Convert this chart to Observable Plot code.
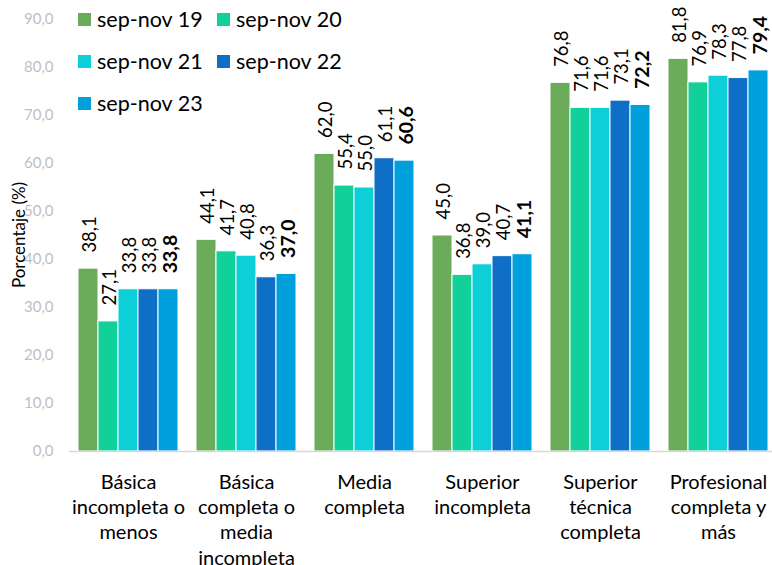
<!DOCTYPE html>
<html><head><meta charset="utf-8">
<script src="https://cdn.jsdelivr.net/npm/d3@7"></script>
<script src="https://cdn.jsdelivr.net/npm/@observablehq/plot@0.6"></script>
<style>
body{margin:0;background:#fff;font-family:Lato,sans-serif;}
#wrap{position:relative;width:772px;height:565px;overflow:hidden;}
.lg{position:absolute;display:flex;align-items:center;font-size:21.5px;color:#000;white-space:nowrap;line-height:1;}
.lg span.sw{display:inline-block;width:13px;height:13px;margin-right:6px;}
</style></head><body><div id="wrap"></div>
<script>
const categories = ["Básica incompleta o menos","Básica completa o media incompleta","Media completa","Superior incompleta","Superior técnica completa","Profesional completa y más"];
const tickLabels = ["Básica\nincompleta o\nmenos","Básica\ncompleta o\nmedia\nincompleta","Media\ncompleta","Superior\nincompleta","Superior\ntécnica\ncompleta","Profesional\ncompleta y\nmás"];
const series = ["sep-nov 19","sep-nov 20","sep-nov 21","sep-nov 22","sep-nov 23"];
const colors = ["#6aac5a","#12d09a","#0ccfd8","#0f6fc6","#00a0dc"];
const v19 = [38.1,44.1,62.0,45.0,76.8,81.8];
const v20 = [27.1,41.7,55.4,36.8,71.6,76.9];
const v21 = [33.8,40.8,55.0,39.0,71.6,78.3];
const v22 = [33.8,36.3,61.1,40.7,73.1,77.8];
const v23 = [33.8,37.0,60.6,41.1,72.2,79.4];
const yTicks = [0,10,20,30,40,50,60,70,80,90];

const seriesValues = [v19,v20,v21,v22,v23];
const data = [];
categories.forEach((c,ci)=>series.forEach((s,si)=>data.push({cat:c, series:s, value:seriesValues[si][ci], last: si===series.length-1})));
const fmt = d => d.toFixed(1).replace(".",",");
const labelOf = new Map(categories.map((c,i)=>[c,tickLabels[i]]));

const plot = Plot.plot({
  width:772, height:565, marginLeft:69, marginRight:0, marginTop:19, marginBottom:114,
  style:{fontFamily:"Lato, sans-serif", background:"white", overflow:"visible"},
  fx:{domain:categories, paddingInner:0.1356, paddingOuter:0.0466, align:0.727, label:null},
  x:{domain:series, padding:0, axis:null},
  y:{domain:[0,90], axis:null},
  color:{domain:series, range:colors},
  marks:[
    Plot.barY(data,{fx:"cat", x:"series", y:"value", fill:"series", stroke:"white", strokeWidth:1}),
    Plot.ruleY([0],{stroke:"#d9d9d9", strokeWidth:1.5, insetLeft:-8, insetRight:-8}),
    Plot.axisY(yTicks,{tickSize:0, tickPadding:24, tickFormat:fmt, fontSize:15, fill:"#bfbfbf", color:"#bfbfbf", label:null}),
    Plot.axisFx({anchor:"bottom", tickSize:0, tickPadding:19, fontSize:20, lineHeight:1.27, label:null, fill:"#000", tickFormat:d=>labelOf.get(d)}),
    Plot.text(data.filter(d=>!d.last),{fx:"cat", x:"series", y:"value", text:d=>fmt(d.value), rotate:-90, textAnchor:"start", dx:2, dy:-16, fontSize:18.5, fill:"#000"}),
    Plot.text(data.filter(d=>d.last),{fx:"cat", x:"series", y:"value", text:d=>fmt(d.value), rotate:-90, textAnchor:"start", dx:2, dy:-16, fontSize:19.5, fontWeight:"bold", fill:"#000"})
  ]
});
const wrap = document.getElementById("wrap");
wrap.appendChild(plot);
const yl = document.createElement("div");
yl.textContent = "Porcentaje (%)";
yl.style.cssText = "position:absolute;left:18px;top:235px;transform:translate(-50%,-50%) rotate(-90deg);font-size:17px;white-space:nowrap;color:#000;line-height:1;";
wrap.appendChild(yl);
series.forEach((s,i)=>{
  const el = document.createElement("div");
  el.className = "lg";
  el.style.left = (78 + (i%2)*139) + "px";
  el.style.top = (20 + Math.floor(i/2)*42 - 11) + "px";
  el.innerHTML = `<span class="sw" style="background:${colors[i]}"></span><span>${s}</span>`;
  wrap.appendChild(el);
});
</script>
</body></html>
